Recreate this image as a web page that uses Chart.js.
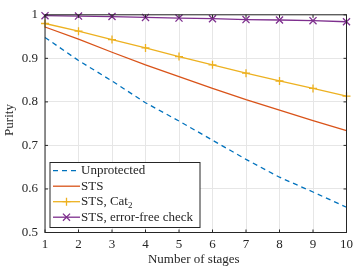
<!DOCTYPE html>
<html><head><meta charset="utf-8">
<script src="https://cdn.jsdelivr.net/npm/chart.js@4/dist/chart.umd.min.js"></script>
<style>html,body{margin:0;padding:0;background:#fff;} canvas{display:block;}</style>
</head><body>
<canvas id="c" width="357" height="269"></canvas>
<script>
const stages = [1, 2, 3, 4, 5, 6, 7, 8, 9, 10];
const unprotected = [0.948, 0.895, 0.848, 0.798, 0.756, 0.712, 0.668, 0.627, 0.593, 0.558];
const sts = [0.972, 0.944, 0.914, 0.885, 0.858, 0.831, 0.805, 0.781, 0.757, 0.734];
const stsCat2 = [0.980, 0.9625, 0.943, 0.924, 0.904, 0.885, 0.866, 0.848, 0.831, 0.813];
const stsErrorFree = [0.998, 0.997, 0.996, 0.994, 0.9925, 0.991, 0.989, 0.988, 0.9865, 0.984];
const yTicks = [0.5, 0.6, 0.7, 0.8, 0.9, 1];
const xTicks = [1, 2, 3, 4, 5, 6, 7, 8, 9, 10];
const seriesLabels = ['Unprotected', 'STS', 'STS, Cat₂', 'STS, error-free check'];
const xTitle = 'Number of stages';
const yTitle = 'Purity';

const FONT = "'Liberation Serif', 'Times New Roman', serif";
const AXIS = '#262626';
const pts = arr => stages.map((s, i) => ({x: s, y: arr[i]}));

function drawLabel(ctx, text, x, y) {
  const parts = text.split('₂');
  ctx.textAlign = 'left';
  ctx.textBaseline = 'middle';
  let cx = x;
  parts.forEach((p, i) => {
    ctx.font = '13px ' + FONT;
    ctx.fillText(p, cx, y);
    cx += ctx.measureText(p).width;
    if (i < parts.length - 1) {
      ctx.font = '9px ' + FONT;
      ctx.fillText('2', cx, y + 4);
      cx += ctx.measureText('2').width;
    }
  });
}

const decor = {
  id: 'decor',
  afterDraw(chart) {
    const ctx = chart.ctx, a = chart.chartArea;
    const xs = chart.scales.x, ys = chart.scales.y;
    ctx.save();
    ctx.strokeStyle = AXIS; ctx.lineWidth = 1;
    ctx.strokeRect(a.left, a.top, a.right - a.left, a.bottom - a.top);
    ctx.beginPath();
    xTicks.forEach(v => {
      const px = xs.getPixelForValue(v);
      ctx.moveTo(px, a.bottom); ctx.lineTo(px, a.bottom - 3);
      ctx.moveTo(px, a.top); ctx.lineTo(px, a.top + 3);
    });
    yTicks.forEach(v => {
      const py = ys.getPixelForValue(v);
      ctx.moveTo(a.left, py); ctx.lineTo(a.left + 3, py);
      ctx.moveTo(a.right, py); ctx.lineTo(a.right - 3, py);
    });
    ctx.stroke();
    ctx.fillStyle = AXIS;
    ctx.font = '13px ' + FONT;
    ctx.textAlign = 'center'; ctx.textBaseline = 'middle';
    ctx.fillText(xTitle, (a.left + a.right) / 2 - 2, 260);
    ctx.save();
    ctx.translate(10, 120); ctx.rotate(-Math.PI / 2);
    ctx.fillText(yTitle, 0, 0);
    ctx.restore();
    const lx = 50, ly = 162.5, lw = 150, lh = 65;
    ctx.fillStyle = '#fff';
    ctx.fillRect(lx, ly, lw, lh);
    ctx.strokeStyle = AXIS; ctx.lineWidth = 1;
    ctx.strokeRect(lx, ly, lw, lh);
    chart.data.datasets.forEach((ds, i) => {
      const y = 170.7 + i * 15.5;
      ctx.strokeStyle = ds.borderColor; ctx.lineWidth = 1.3;
      ctx.setLineDash(ds.borderDash || []);
      ctx.beginPath(); ctx.moveTo(53, y); ctx.lineTo(80, y); ctx.stroke();
      ctx.setLineDash([]);
      if (ds.pointStyle && ds.pointRadius > 0) {
        Chart.helpers.drawPoint(ctx, {pointStyle: ds.pointStyle, radius: ds.pointRadius, borderWidth: 1.3, rotation: 0}, 66.5, y);
      }
      ctx.fillStyle = AXIS;
      drawLabel(ctx, ds.label, 81, y);
    });
    ctx.restore();
  }
};

new Chart(document.getElementById('c'), {
  type: 'line',
  data: {
    datasets: [
      {label: seriesLabels[0], data: pts(unprotected), borderColor: '#0072BD', borderDash: [5, 4], borderWidth: 1.3, pointRadius: 0, pointStyle: false, clip: false},
      {label: seriesLabels[1], data: pts(sts), borderColor: '#D95319', borderWidth: 1.3, pointRadius: 0, pointStyle: false, clip: false},
      {label: seriesLabels[2], data: pts(stsCat2), borderColor: '#EDB120', borderWidth: 1.3, pointStyle: 'cross', pointRadius: 4, pointBorderWidth: 1.3, pointBorderColor: '#EDB120', clip: false},
      {label: seriesLabels[3], data: pts(stsErrorFree), borderColor: '#7E2F8E', borderWidth: 1.3, pointStyle: 'crossRot', pointRadius: 5, pointBorderWidth: 1.3, pointBorderColor: '#7E2F8E', clip: false}
    ]
  },
  options: {
    responsive: false,
    animation: false,
    events: [],
    layout: {padding: {top: 10, right: 10.5, bottom: 0, left: 0}},
    plugins: {legend: {display: false}, tooltip: {enabled: false}},
    elements: {line: {tension: 0}},
    scales: {
      x: {
        type: 'linear', min: 1, max: 10,
        afterBuildTicks: s => { s.ticks = xTicks.map(v => ({value: v})); },
        afterFit: s => { s.height = 36.5; },
        grid: {color: '#e6e6e6', drawTicks: false},
        border: {display: false},
        ticks: {padding: 4, color: AXIS, font: {family: FONT, size: 13}, maxRotation: 0, autoSkip: false}
      },
      y: {
        type: 'linear', min: 0.5, max: 1,
        afterBuildTicks: s => { s.ticks = yTicks.map(v => ({value: v})); },
        afterFit: s => { s.width = 45; },
        grid: {color: '#e6e6e6', drawTicks: false},
        border: {display: false},
        ticks: {padding: 7, color: AXIS, font: {family: FONT, size: 13}, callback: v => (v === 1 ? '1' : v.toFixed(1))}
      }
    }
  },
  plugins: [decor]
});
</script>
</body></html>
